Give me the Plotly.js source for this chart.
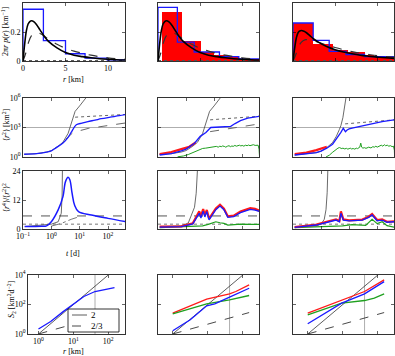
<!DOCTYPE html>
<html><head><meta charset="utf-8">
<script src="https://cdn.plot.ly/plotly-3.0.1.min.js"></script>
<style>body{margin:0;padding:0;background:#fff}#g{width:395px;height:356px}</style>
</head><body><div id="g"></div>
<script>
// ---------- Row 1: pair-separation PDFs (r in km) ----------
const pdfR = [0,0.2,0.4,0.6,0.8,1.0,1.3,1.6,2,2.5,3,4,5,6,7,8,9,10,11,12];
const pdfSolidA = [0,0.12,0.21,0.255,0.272,0.278,0.27,0.25,0.215,0.17,0.135,0.09,0.058,0.04,0.03,0.022,0.016,0.012,0.009,0.007];
const pdfSolidC = [0,0.09,0.16,0.195,0.207,0.21,0.205,0.195,0.175,0.15,0.13,0.1,0.078,0.062,0.05,0.04,0.033,0.027,0.022,0.018];
const pdfDashR = [0,0.3,0.6,1,1.5,2,3,4,5,6,7,8,9,10,11,12];
const pdfDashA = [0,0.05,0.12,0.175,0.195,0.19,0.15,0.115,0.088,0.068,0.053,0.04,0.03,0.022,0.016,0.012];
const pdfDashC = [0,0.04,0.09,0.13,0.147,0.145,0.13,0.11,0.093,0.078,0.065,0.054,0.045,0.037,0.03,0.025];
const pdfDotR = [0,12];
const pdfDotV = [0.003,0.003];
const stepX1 = [0,0,2.4,5,7.3,9.9,12];
const stepY1 = [0,0.357,0.14,0.05,0.02,0.008,0.008];
const stepX2 = [0,0,2.3,4.3,7.3,9.6,12];
const stepY2 = [0,0.37,0.13,0.062,0.03,0.015,0.015];
const stepX3 = [0,0,2.4,4.3,6.3,8.5,12];
const stepY3 = [0,0.262,0.142,0.066,0.045,0.03,0.03];
const barC2 = [1.63,3.95,5.85,7.55,9.0,10.8];
const barW2 = [2.38,2.26,1.7,1.7,1.2,2.4];
const barH2 = [0.336,0.138,0.064,0.041,0.03,0.016];
const barC3 = [1.2,3.55,5.6,7.5,9.05,10.8];
const barW3 = [2.4,2.3,1.8,2.0,1.1,2.4];
const barH3 = [0.262,0.12,0.078,0.06,0.043,0.032];

// ---------- Row 2: <r^2> vs t (days) ----------
const m2T1 = [0.11,0.3,0.68,1,1.5,2.57,3.9,5,7.6,12,19.5,35,57.5,120,250,436];
const m2B1 = [1.9,2.2,3.2,4.2,9,26,100,316,1860,2800,4000,5600,7800,11200,15800,21400];
const balT1 = [0.11,0.3,0.68,1,1.74,2.57,3.9,5.2,6.9,10,17];
const balV1 = [1.9,2.2,3.2,4.5,12.6,32,250,3160,43650,158000,1120000];
const dotT = [6.9,50,436];
const dotV1 = [11200,15500,21400];
const dashT1 = [3.2,5.9,20,100,436];
const dashV1 = [63,316,800,1580,2950];

const m2T2 = [0.115,0.3,0.68,1,2,3.2,5.1,6.2,7.6,16,39,56,87,158,417];
const m2B2 = [1.6,2.2,4.2,6.3,25,126,316,630,1000,1120,1320,2510,5010,8910,14100];
const m2RT2 = [0.115,0.3,0.68,1.3,2.2];
const m2R2 = [2,3.2,6.3,11,30];
const dotT2 = [7.2,60,417];
const dotV2 = [6030,9550,14100];
const dashV2 = [380,1000,2340];
const m2GT2 = [0.5,0.8,1.2,1.8,2.6,3.9,5,6,7,8,9,10,12,14,16,18,20,23,26,30,34,38,43,48,55,62,70,80,90,100,115,130,150,170,190,220,250,290,330,370,400,417];
const m2G2 = [1.05,1.26,1.78,2.82,4.47,7.41,7.94,8.91,10,9.33,11.2,10.5,12,10,12.6,11.2,13.2,12,10,12.6,14.1,11.2,13.2,12,15.1,12.6,14.1,15.8,13.2,15.1,12.6,15.8,14.1,16.6,14.1,15.8,17.8,15.1,16.6,15.8,6.3,1.0];

const balT3 = [0.115,0.3,0.68,1,1.6,2.57,3.5,4.5,5.1,6,7.2,7.8];
const balV3 = [1.6,2,2.8,4,8.9,29.5,126,631,1585,10000,631000,1260000];
const m2T3 = [0.115,0.3,0.68,1,1.6,2.57,3.5,4.5,5.1,6.2,6.8,7.4,8.5,10,14,20,39,70,150,417];
const m2B3 = [1.6,2,2.75,4,7.9,20,63,158,316,832,501,380,562,708,891,1120,1585,2510,3980,6030];
const m2RT3 = [0.115,0.3,0.68,1,1.6];
const m2R3 = [2,2.8,5,7.1,11.2];
const dotV3 = [2340,3980,6030];
const m2GT3 = [1.5,2,2.5,3,3.5,4,4.5,5,5.5,6,7,8,9,10,11,12,14,16,18,20,22,24,26,28,31,35,40,45,50,60,70,80,90,100,120,140,160,180,200,230,260,300,340,380,410,417];
const m2G3 = [1,1.58,2.82,4.47,6.31,7.94,9.12,8.32,7.08,7.94,6.61,7.59,6.31,7.08,7.94,6.61,7.24,6.31,7.94,7.08,8.32,10,25.7,10,7.94,8.91,7.59,8.91,10,8.32,11.2,10,12.6,10,14.1,15.8,12.6,17.8,14.1,15.8,12.6,14.1,11.2,12.6,5.01,1.26];
const refM2 = 1000;

// ---------- Row 3: kurtosis vs t ----------
const kT1 = [0.115,0.45,0.68,1,1.74,2.57,3.16,3.9,4.5,5.4,6.6,9.1,26,100,436];
const kB1 = [1.0,1.1,1.3,3.0,7.9,13.4,19.6,21.4,20.4,14.8,9.9,7.2,5.8,4.4,3.0];
const kBalT1 = [0.115,1,1.74,2.24,2.4,2.45,2.5];
const kBal1 = [1,2.0,3.0,6.5,14,24,30];
const kDdT1 = [1,2.24,5,9.1];
const kDd1 = [1.2,2.3,4.0,5.0];
const kT2 = [0.115,0.68,1.74,2.57,2.95,3.39,4.07,4.68,5.5,6.6,8.7,11.5,16.2,22.4,30.9,50,87,195,288,407];
const kB2 = [0.8,0.96,2.1,5.1,6.5,4.5,7.4,5.0,7.2,3.8,5.9,8.0,9.5,8.0,4.8,5.1,6.8,8.1,7.8,7.3];
const kR2 = [1.0,1.1,2.4,5.8,7.3,5.2,8.3,5.8,7.9,4.2,6.3,8.5,10.0,8.4,5.2,5.5,7.2,8.6,8.3,7.6];
const kGT2 = [0.115,0.68,1.74,3.9,6.6,11.5,16.2,22.4,30.9,50,87,195,407];
const kG2 = [0.6,0.9,1.0,1.3,2.0,3.0,2.6,2.3,1.6,1.8,2.0,1.9,1.9];
const kBalT2 = [0.115,0.68,1.2,1.5,2,2.3,2.57,2.7];
const kBal2 = [1,1.3,2.5,5.1,9,14.8,24,30];
const kT3 = [0.115,0.68,2,3.4,4.5,5.1,6.2,10,29.5,50,66,100,151,224,407];
const kB3 = [0.7,1.65,3.0,3.7,3.0,6.5,3.7,3.4,3.7,4.8,5.8,3.4,3.7,2.8,3.0];
const kR3 = [0.8,1.8,3.3,4.0,3.3,7.3,4.0,3.6,3.9,5.1,6.2,3.7,4.0,3.0,3.2];
const kGT3 = [0.115,0.68,1,3.4,5.8,12.6,39,66,100,151,224,407];
const kG3 = [0.6,0.9,1.0,1.2,1.3,1.8,1.5,4.0,2.2,3.0,1.4,0.8];
const kBalT3 = [0.115,0.68,1.0,1.3,1.5,1.65,1.74,1.8];
const kBal3 = [1,1.3,2,4,8,15,24,30];
const kDashLevel = 5.4;
const kDotLevel = 2.0;

// ---------- Row 4: S2 vs r ----------
const s2R1 = [1,2.24,5,10,20,41.7,100,151];
const s2B1 = [2.2,7.1,31.6,100,347,759,1120,1410];
const s2R2 = [1,9.3,41.7,63,151];
const s2Red2 = [26.3,229,525,759,2140];
const s2GR2 = [1,9.3,41.7,151];
const s2G2 = [23.4,112,209,407];
const s2BR2 = [1,3.16,9.3,15.8,41.7,151];
const s2B2 = [1.66,9.3,81,112,316,1260];
const s2R3 = [1,9.3,41.7,151];
const s2Red3 = [26.3,209,759,4680];
const s2GR3 = [1,9.3,41.7,79,151];
const s2G3 = [20,123,186,269,525];
const s2B3 = [5,123,525,3550];
const slope2R = [1,100];
const slope2V = [1,10000];
const slope23R = [1,151];
const slope23V = [1,28.4];
const rMark = 41.7;
const legendNames = ['2','2/3'];

// ---------- tick labels ----------
const tTicks = [0.1,1,10,100];
const tTickText = ['10<sup>−1</sup>','10<sup>0</sup>','10<sup>1</sup>','10<sup>2</sup>'];
const m2Ticks = [1,1000,1000000];
const m2TickText = ['10<sup>0</sup>','10<sup>3</sup>','10<sup>6</sup>'];
const kTicks = [0,12,24];
const rTicks = [0,5,10];
const pTicks = [0,0.2,0.4];
const pTickText = ['0','0.2','0.4'];
const sTicks = [1,100,10000];
const sTickText = ['10<sup>0</sup>','10<sup>2</sup>','10<sup>4</sup>'];
const srTicks = [1,10,100];
const srTickText = ['10<sup>0</sup>','10<sup>1</sup>','10<sup>2</sup>'];

// ---------- styling ----------
const BLUE='#1a1aff', RED='#ff1a1a', GREEN='#1fa01f', BLK='#000000', LG='#999999';
const W=395, H=356;
const colPx=[[23,125],[158,259],[293,394]];
const rowPx=[[3,61],[98,157],[171,229],[275,334]];
function ax(k){return k===1?'':String(k);}
const traces=[];
function add(k,x,y,o){
  traces.push(Object.assign({x:x,y:y,xaxis:'x'+ax(k),yaxis:'y'+ax(k),mode:'lines',showlegend:false,hoverinfo:'skip'},o));
}
function ln(c,w,d,shape){const l={color:c,width:w,dash:d||'solid'}; if(shape) l.shape=shape; return l;}

// Row 1
const stepsX=[stepX1,stepX2,stepX3], stepsY=[stepY1,stepY2,stepY3];
const solids=[pdfSolidA,pdfSolidA,pdfSolidC], dashes=[pdfDashA,pdfDashA,pdfDashC];
[[null,null,null],[barC2,barW2,barH2],[barC3,barW3,barH3]].forEach((b,i)=>{
  const k=i+1;
  if(b[0]) traces.push({type:'bar',x:b[0],y:b[2],width:b[1],xaxis:'x'+ax(k),yaxis:'y'+ax(k),marker:{color:'#ff0000',line:{width:0}},showlegend:false,hoverinfo:'skip'});
  add(k,pdfDotR,pdfDotV,{line:ln('#555',1,'dot')});
  add(k,stepsX[i],stepsY[i],{line:ln(BLUE,1.3,'solid','hv')});
  add(k,pdfDashR,dashes[i],{line:ln('#333',1.2,'dash','spline')});
  add(k,pdfR,solids[i],{line:ln(BLK,1.6,'solid','spline')});
});
// Row 2
add(4,balT1,balV1,{line:ln('#444',0.8)});
add(4,dotT,dotV1,{line:ln('#666',1,'dot')});
add(4,dashT1,dashV1,{line:ln('#666',1,'dash')});
add(4,m2T1,m2B1,{line:ln(BLUE,1.3,'solid','spline')});
add(5,m2GT2,m2G2,{line:ln(GREEN,1)});
add(5,balT1,balV1,{line:ln('#444',0.8)});
add(5,dotT2,dotV2,{line:ln('#666',1,'dot')});
add(5,dotT2,dashV2,{line:ln('#666',1,'dash')});
add(5,m2RT2,m2R2,{line:ln(RED,2.2)});
add(5,m2T2,m2B2,{line:ln(BLUE,1.3)});
add(6,m2GT3,m2G3,{line:ln(GREEN,1)});
add(6,balT3,balV3,{line:ln('#444',0.8)});
add(6,dotT2,dotV3,{line:ln('#666',1,'dot')});
add(6,m2RT3,m2R3,{line:ln(RED,2.2)});
add(6,m2T3,m2B3,{line:ln(BLUE,1.3)});
// Row 3
add(7,kBalT1,kBal1,{line:ln('#444',0.8)});
add(7,kDdT1,kDd1,{line:ln('#777',1,'dashdot')});
add(7,kT1,kB1,{line:ln(BLUE,1.5,'solid','spline')});
add(8,kGT2,kG2,{line:ln(GREEN,1.2)});
add(8,kBalT2,kBal2,{line:ln('#444',0.8)});
add(8,kT2,kR2,{line:ln(RED,2.2)});
add(8,kT2,kB2,{line:ln(BLUE,1.3)});
add(9,kGT3,kG3,{line:ln(GREEN,1.2)});
add(9,kBalT3,kBal3,{line:ln('#444',0.8)});
add(9,kT3,kR3,{line:ln(RED,2.2)});
add(9,kT3,kB3,{line:ln(BLUE,1.3)});
// Row 4
[10,11,12].forEach(k=>{
  add(k,slope2R,slope2V,{line:ln('#333',0.8),name:legendNames[0]});
  add(k,slope23R,slope23V,{line:ln('#333',0.9,'dash'),name:legendNames[1]});
});
add(10,s2R1,s2B1,{line:ln(BLUE,1.3)});
add(11,s2R2,s2Red2,{line:ln(RED,1.3)});
add(11,s2GR2,s2G2,{line:ln(GREEN,1.3)});
add(11,s2BR2,s2B2,{line:ln(BLUE,1.3)});
add(12,s2R3,s2Red3,{line:ln(RED,1.3)});
add(12,s2GR3,s2G3,{line:ln(GREEN,1.3)});
add(12,s2R3,s2B3,{line:ln(BLUE,1.3)});

const FAM='Liberation Serif';
const FONT={family:FAM,size:8,color:'#000'};
const layout={width:W,height:H,margin:{l:0,r:0,t:0,b:0},paper_bgcolor:'#fff',plot_bgcolor:'#fff',font:FONT,
  showlegend:false,shapes:[],annotations:[],bargap:0};
const base={showgrid:false,zeroline:false,ticks:'inside',ticklen:3,tickwidth:0.6,tickcolor:'#000',linecolor:'#000',linewidth:0.8,mirror:'ticks',showline:true,tickfont:FONT,automargin:false};
for(let r=0;r<4;r++)for(let c=0;c<3;c++){
  const k=r*3+c+1;
  const xl=(r===3&&c===0)?28:colPx[c][0];
  const xd=[xl/W,colPx[c][1]/W], yd=[1-rowPx[r][1]/H,1-rowPx[r][0]/H];
  const xa=Object.assign({},base,{domain:xd,anchor:'y'+ax(k),showticklabels:false});
  const ya=Object.assign({},base,{domain:yd,anchor:'x'+ax(k),showticklabels:c===0});
  if(r===0){Object.assign(xa,{range:[0,12],tickvals:rTicks});Object.assign(ya,{range:[0,0.4],tickvals:pTicks,ticktext:pTickText});}
  if(r===1){Object.assign(xa,{type:'log',range:[-1,2.6],tickvals:tTicks,ticktext:tTickText});Object.assign(ya,{type:'log',range:[0,6],tickvals:m2Ticks,ticktext:m2TickText});}
  if(r===2){Object.assign(xa,{type:'log',range:[-1,2.6],tickvals:tTicks,ticktext:tTickText});Object.assign(ya,{range:[0,24],tickvals:kTicks});}
  if(r===3){Object.assign(xa,{type:'log',range:(c===0?[-0.3,2.48]:[-0.42,2.46]),tickvals:srTicks,ticktext:srTickText});Object.assign(ya,{type:'log',range:[0,4],tickvals:sTicks,ticktext:sTickText});}
  if(c===0 && r!==1) xa.showticklabels=true;
  layout['xaxis'+ax(k)]=xa; layout['yaxis'+ax(k)]=ya;
  if(r===1) layout.shapes.push({type:'line',xref:'x'+ax(k)+' domain',x0:0,x1:1,yref:'y'+ax(k),y0:refM2,y1:refM2,line:{color:LG,width:0.8},layer:'below'});
  if(r===2){
    layout.shapes.push({type:'line',xref:'x'+ax(k)+' domain',x0:0,x1:1,yref:'y'+ax(k),y0:kDashLevel,y1:kDashLevel,line:{color:'#555',width:1,dash:'dash'},layer:'below'});
    layout.shapes.push({type:'line',xref:'x'+ax(k)+' domain',x0:0,x1:1,yref:'y'+ax(k),y0:kDotLevel,y1:kDotLevel,line:{color:'#777',width:1,dash:'dot'},layer:'below'});
  }
  if(r===3) layout.shapes.push({type:'line',yref:'y'+ax(k)+' domain',y0:0,y1:1,xref:'x'+ax(k),x0:rMark,x1:rMark,line:{color:LG,width:0.8},layer:'below'});
}
// axis titles (placed as text labels)
function lab(text,px,py,rot){layout.annotations.push({text:text,xref:'paper',yref:'paper',x:px/W,y:1-py/H,xanchor:'center',yanchor:'middle',showarrow:false,textangle:rot||0,font:FONT});}
lab('2π<i>r p</i>(<i>r</i>) [km<sup>−1</sup>]',5,32,-90);
lab('<i>r</i> [km]',73,79);
lab('⟨<i>r</i><sup>2</sup>⟩ [km<sup>2</sup>]',6,125,-90);
lab('⟨<i>r</i><sup>4</sup>⟩/⟨<i>r</i><sup>2</sup>⟩<sup>2</sup>',6,198,-90);
lab('<i>t</i> [d]',73,253);
lab('<i>S</i><sub>2</sub> [km<sup>2</sup>d<sup>−2</sup>]',11,300,-90);
lab('<i>r</i> [km]',73,351);
// legend box for the slope lines of the first S2 panel
const LB={x0:68,x1:119,y0:309,y1:332};
layout.shapes.push({type:'rect',xref:'paper',yref:'paper',x0:LB.x0/W,x1:LB.x1/W,y0:1-LB.y1/H,y1:1-LB.y0/H,line:{color:'#000',width:0.8},fillcolor:'#fff',layer:'above'});
layout.shapes.push({type:'line',xref:'paper',yref:'paper',x0:72/W,x1:87/W,y0:1-315/H,y1:1-315/H,line:{color:'#333',width:0.8}});
layout.shapes.push({type:'line',xref:'paper',yref:'paper',x0:72/W,x1:87/W,y0:1-326/H,y1:1-326/H,line:{color:'#333',width:0.9,dash:'dash'}});
layout.annotations.push({text:legendNames[0],xref:'paper',yref:'paper',x:90/W,y:1-315/H,xanchor:'left',yanchor:'middle',showarrow:false,font:{family:FAM,size:9},borderpad:0});
layout.annotations.push({text:legendNames[1],xref:'paper',yref:'paper',x:90/W,y:1-326/H,xanchor:'left',yanchor:'middle',showarrow:false,font:{family:FAM,size:9},borderpad:0});
Plotly.newPlot('g',traces,layout,{staticPlot:true});
</script></body></html>
